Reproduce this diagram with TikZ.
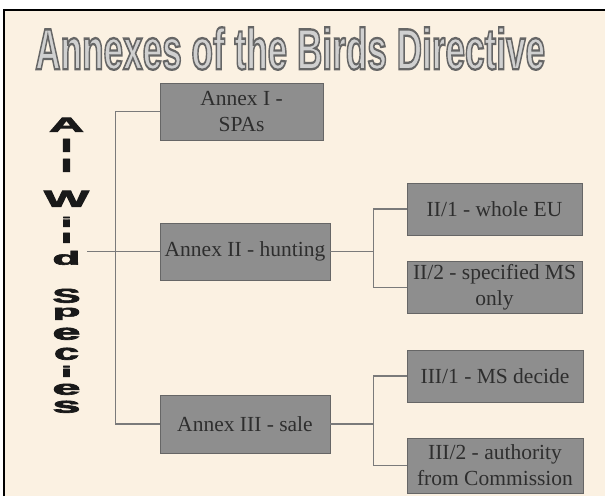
\documentclass[tikz,border=0pt]{standalone}
\usepackage{fontspec}
\setmainfont{Liberation Serif}
\newfontfamily\headfont{Liberation Sans Bold}[FakeBold=4]
\newfontfamily\heavyfont{Liberation Sans Bold}[FakeBold=3]
\usepackage{graphicx}
\definecolor{cream}{HTML}{FBF1E2}
\definecolor{boxfill}{HTML}{8E8E8E}
\definecolor{boxedge}{HTML}{666666}
\definecolor{boxtext}{HTML}{2E2E2E}
\definecolor{linkcol}{HTML}{7A7A7A}
\definecolor{titlefill}{HTML}{D0D0D0}
\newcommand{\vlet}[3]{\resizebox*{#2pt}{#3pt}{\heavyfont\fontsize{20}{20}\selectfont #1}}
\tikzset{
  annexbox/.style={draw=boxedge, line width=0.8pt, fill=boxfill, text=boxtext,
    inner sep=0pt, align=center, font=\fontsize{21.5}{26}\selectfont},
  letter/.style={anchor=south, inner sep=0pt, text=black!90},
  link/.style={draw=linkcol, line width=1.2pt}
}
\begin{document}
\begin{tikzpicture}[x=1pt,y=-1pt]
\useasboundingbox (0,0) rectangle (605,496);
\fill[white] (0,0) rectangle (605,496);
\fill[cream] (4,10) rectangle (605,496);
\draw[line width=1.3pt] (4,496) -- (4,10) -- (605,10);

% title
\node[anchor=south west, inner sep=0pt] (title) at (35,70)
  {\resizebox{510pt}{42pt}{\headfont\fontsize{40}{40}\selectfont
   \textcolor{titlefill}{\special{pdf:literal direct 0.40 0.40 0.40 RG}Annexes of the Birds Directive}}};

% vertical label
\node[letter] (v1)  at (66.5,132) {\vlet{A}{35}{14}};
\node[letter] (v2)  at (66.5,152) {\vlet{l}{12}{13}};
\node[letter] (v3)  at (66.5,172) {\vlet{l}{12}{13}};
\node[letter] (v4)  at (66.5,207) {\vlet{W}{45}{16}};
\node[letter] (v5)  at (66.5,227) {\vlet{i}{11}{10}};
\node[letter] (v6)  at (66.5,243) {\vlet{l}{11}{10}};
\node[letter] (v7)  at (66.5,265) {\vlet{d}{28}{14}};
\node[letter] (v8)  at (66.5,303) {\vlet{S}{28}{14}};
\node[letter] (v9)  at (66.5,320) {\vlet{p}{28}{12}};
\node[letter] (v10) at (66.5,340) {\vlet{e}{28}{12}};
\node[letter] (v11) at (66.5,360) {\vlet{c}{25}{12}};
\node[letter] (v12) at (66.5,377) {\vlet{i}{11}{11}};
\node[letter] (v13) at (66.5,395) {\vlet{e}{28}{11}};
\node[letter] (v14) at (66.5,413) {\vlet{s}{28}{12}};
\coordinate (root) at (87,251.5);

% annex boxes
\node[annexbox, minimum width=163pt, minimum height=57pt] (a1) at (241.5,111.5) {Annex I -\\SPAs};
\node[annexbox, minimum width=170pt, minimum height=57pt] (a2) at (245,251.5) {Annex II - hunting};
\node[annexbox, minimum width=170pt, minimum height=58pt] (a3) at (245,424) {Annex III - sale};

\node[annexbox, minimum width=175pt, minimum height=52pt] (b1) at (494.5,209) {II/1 - whole EU};
\node[annexbox, minimum width=175pt, minimum height=52pt] (b2) at (494.5,287.5) {II/2 - specified MS\\only};
\node[annexbox, minimum width=176pt, minimum height=52pt] (c1) at (495,376) {III/1 - MS decide};
\node[annexbox, minimum width=176pt, minimum height=55pt] (c2) at (495,465.5) {III/2 - authority\\from Commission};

% connectors
\draw[link] (root) -- (a2.west);
\draw[link] (a1.west) -- ++(-44,0) |- (a3.west);
\draw[link] (a2.east) -- ++(43,0) coordinate (j2) |- (b1.west);
\draw[link] (j2) |- (b2.west);
\draw[link] (a3.east) -- ++(43,0) coordinate (j3) |- (c1.west);
\draw[link] (j3) |- (c2.west);
\end{tikzpicture}
\end{document}
